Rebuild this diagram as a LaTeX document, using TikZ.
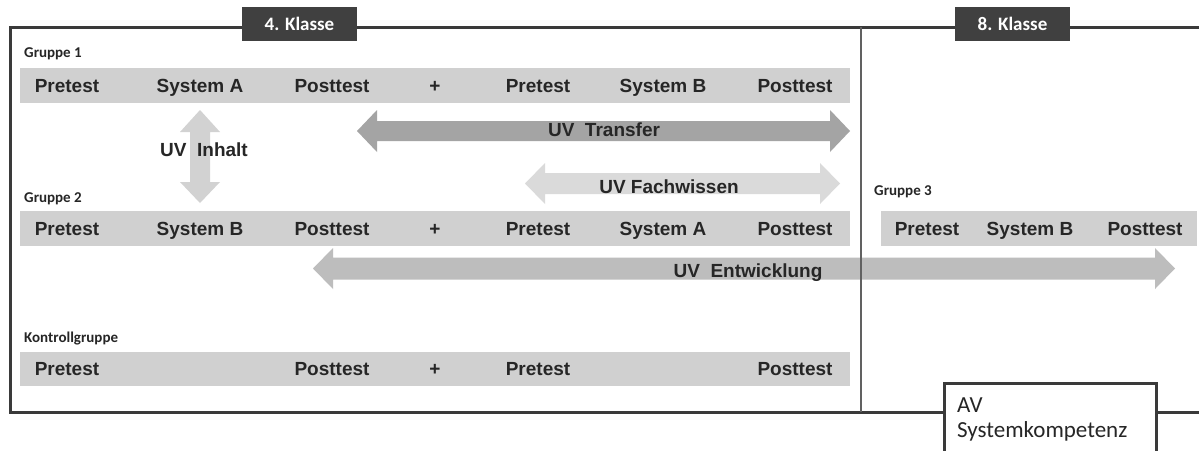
\documentclass[tikz,border=0pt]{standalone}
\usepackage{fontspec}
\newfontfamily\barfont{Liberation Sans}
\newfontfamily\calfont{Carlito}
\definecolor{tabgray}{HTML}{404040}
\definecolor{framegray}{HTML}{3A3A3A}
\definecolor{bargray}{HTML}{D0D0D0}
\definecolor{txtgray}{HTML}{262626}
\definecolor{trgray}{HTML}{A4A4A4}
\definecolor{ingray}{HTML}{D2D2D2}
\definecolor{fwgray}{HTML}{DADADA}
\definecolor{entgray}{HTML}{BDBDBD}
% horizontal block arrow: x1, x2, y, half shaft, half head, colour
\newcommand\hdblarrow[6]{%
  \fill[#6] (#1,#3) -- (#1+20,#3-#5) -- (#1+20,#3-#4) -- (#2-20,#3-#4) -- (#2-20,#3-#5)
    -- (#2,#3) -- (#2-20,#3+#5) -- (#2-20,#3+#4) -- (#1+20,#3+#4) -- (#1+20,#3+#5) -- cycle;}
\tikzset{
  bar/.style={fill=bargray},
  bartxt/.style={font=\barfont\fontsize{19}{21}\selectfont\bfseries, text=txtgray, anchor=base, inner sep=0pt},
  grp/.style={font=\calfont\fontsize{15}{17}\selectfont\bfseries, text=txtgray, anchor=base west, inner sep=0pt},
  tab/.style={fill=tabgray, text=white, font=\calfont\fontsize{19}{21}\selectfont\bfseries,
    minimum width=115pt, minimum height=34pt, text height=12.5pt, text depth=0pt, inner sep=0pt},
  uvtxt/.style={font=\barfont\fontsize{19}{21}\selectfont\bfseries, text=txtgray, anchor=base, inner sep=0pt}
}
\begin{document}
\begin{tikzpicture}[x=1pt,y=-1pt]
\useasboundingbox[fill=white] (0,0) rectangle (1199,450);

% bars
\fill[bar] (20,68) rectangle (850,103);
\fill[bar] (20,211) rectangle (850,246);
\fill[bar] (881,211) rectangle (1197,246);
\fill[bar] (20,352) rectangle (850,386);

% arrows
\hdblarrow{357}{850}{131}{10}{21}{trgray}
\hdblarrow{525}{840}{183.5}{10.5}{20.5}{fwgray}
\hdblarrow{313}{1175}{268.5}{11}{20.5}{entgray}
\fill[ingray] (200,110) -- (220,132) -- (210,132) -- (210,182) -- (220,182) -- (200,203)
  -- (180,182) -- (190,182) -- (190,132) -- (180,132) -- cycle;

% frame
\draw[framegray, line width=3pt] (1199,27) -- (10,27) -- (10,412) -- (1199,412);
\draw[framegray!80, line width=1.6pt] (861,27) -- (861,412);

% tabs
\node[tab] (k4) at (299.5,24) {4. Klasse};
\node[tab] (k8) at (1012.5,24) {8. Klasse};

% group labels
\node[grp] (g1) at (24,57) {Gruppe 1};
\node[grp] (g2) at (24,202) {Gruppe 2};
\node[grp] (g3) at (874,195) {Gruppe 3};
\node[grp] (kg) at (24,342) {Kontrollgruppe};

% bar texts
\foreach \x/\t [count=\i] in {67/Pretest, 200/System A, 332/Posttest, 435/+, 538/Pretest, 663/System B, 795/Posttest}
  \node[bartxt] (a\i) at (\x,92) {\t};
\foreach \x/\t [count=\i] in {67/Pretest, 200/System B, 332/Posttest, 435/+, 538/Pretest, 663/System A, 795/Posttest}
  \node[bartxt] (b\i) at (\x,235) {\t};
\foreach \x/\t [count=\i] in {927/Pretest, 1030/System B, 1145/Posttest}
  \node[bartxt] (c\i) at (\x,235) {\t};
\foreach \x/\t [count=\i] in {67/Pretest, 332/Posttest, 435/+, 538/Pretest, 795/Posttest}
  \node[bartxt] (d\i) at (\x,375) {\t};

% arrow labels
\node[uvtxt] (tr) at (604,136) {UV\ \ Transfer};
\node[uvtxt] (in) at (204,156) {UV\ \ Inhalt};
\node[uvtxt] (fw) at (669,193) {UV Fachwissen};
\node[uvtxt] (ent) at (748,277) {UV\ \ Entwicklung};

% AV box
\draw[framegray, line width=3pt, fill=white] (944,383) rectangle (1156,455);
\node[font=\calfont\fontsize{23}{25}\selectfont, text=txtgray, anchor=base west, align=left, inner sep=0pt]
  (av) at (957,437) {AV\\Systemkompetenz};
\end{tikzpicture}
\end{document}
